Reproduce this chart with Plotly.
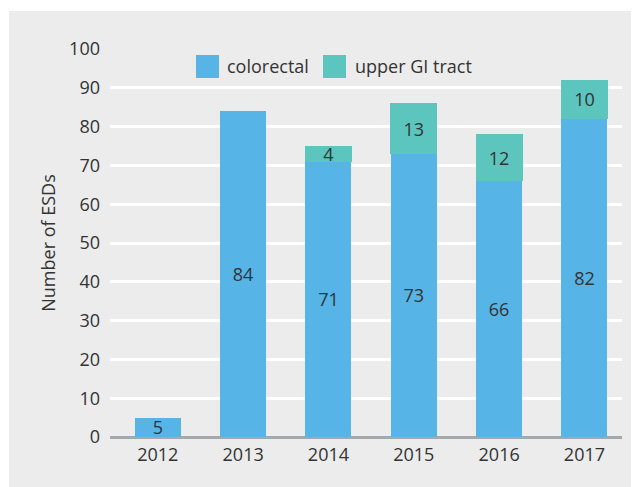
import plotly.graph_objects as go

years = ["2012", "2013", "2014", "2015", "2016", "2017"]
colorectal = [5, 84, 71, 73, 66, 82]
upper_gi = [None, None, 4, 13, 12, 10]
y_ticks = [0, 10, 20, 30, 40, 50, 60, 70, 80, 90, 100]

BLUE = "#56b4e6"
TEAL = "#5cc5be"
BG = "#ebeceb"
TXT = "#333333"
FONT = "Open Sans"
FS = 18

# the page body adds an 8px margin; work in screen pixels and convert
OFF = 8
W, H = 639 - OFF, 487 - OFF
L, R, T, B = 110 - OFF, 17, 49 - OFF, 50
PW, PH = W - L - R, H - T - B

def px(x):
    return (x - OFF - L) / PW

def py(y):
    return (H - B - (y - OFF)) / PH

fig = go.Figure()
fig.add_trace(go.Bar(
    x=years, y=colorectal, name="colorectal", marker=dict(color=BLUE, line=dict(width=0)),
    text=colorectal, texttemplate="%{text}", textposition="inside", textangle=0,
    insidetextanchor="middle", textfont=dict(size=FS, color=TXT, family=FONT),
    showlegend=False,
))
fig.add_trace(go.Bar(
    x=years, y=upper_gi, name="upper GI tract", marker=dict(color=TEAL, line=dict(color=TEAL, width=1)),
    text=upper_gi, texttemplate="%{text}", textposition="inside", textangle=0,
    insidetextanchor="middle", textfont=dict(size=FS, color=TXT, family=FONT),
    showlegend=False,
))

shapes = [
    # grey panel
    dict(type="rect", xref="paper", yref="paper", x0=px(9), x1=px(645), y0=py(492), y1=py(11),
         fillcolor=BG, line_width=0, layer="below"),
    # legend swatches
    dict(type="rect", xref="paper", yref="paper", x0=px(196), x1=px(219), y0=py(78), y1=py(55),
         fillcolor=BLUE, line_width=0),
    dict(type="rect", xref="paper", yref="paper", x0=px(323), x1=px(346), y0=py(78), y1=py(55),
         fillcolor=TEAL, line_width=0),
]
annotations = [
    dict(text="colorectal", xref="paper", yref="paper", x=px(225), y=py(66.5), xanchor="left",
         yanchor="middle", showarrow=False, font=dict(size=FS, color=TXT, family=FONT)),
    dict(text="upper GI tract", xref="paper", yref="paper", x=px(353), y=py(66.5), xanchor="left",
         yanchor="middle", showarrow=False, font=dict(size=FS, color=TXT, family=FONT)),
]

fig.update_layout(
    barmode="stack", bargap=0.46,
    width=W, height=H,
    margin=dict(l=L, r=R, t=T, b=B, pad=0),
    paper_bgcolor="white", plot_bgcolor=BG,
    font=dict(family=FONT, size=FS, color=TXT),
    shapes=shapes, annotations=annotations,
    uniformtext=dict(minsize=FS, mode="show"),
    xaxis=dict(showgrid=False, showline=False, ticks="", tickfont=dict(size=FS, color=TXT),
               range=[-0.56, 5.44], ticklabelstandoff=5, automargin=False),
    yaxis=dict(range=[0, 100], tickvals=y_ticks, showgrid=True, gridcolor="white", gridwidth=3,
               zeroline=True, zerolinecolor="#a6a8aa", zerolinewidth=3, showline=False, ticks="",
               tickfont=dict(size=FS, color=TXT), ticklabelstandoff=9, automargin=False,
               title=dict(text="Number of ESDs", font=dict(size=FS, color=TXT), standoff=8)),
)

fig.write_html("out.html")
